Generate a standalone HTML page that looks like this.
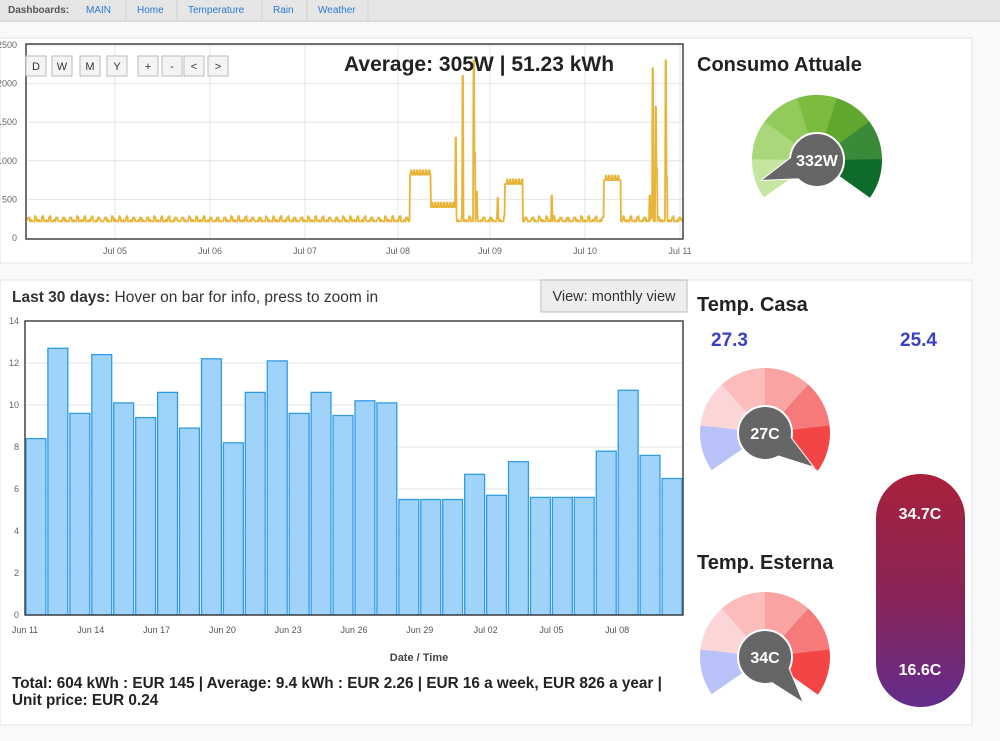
<!DOCTYPE html>
<html><head><meta charset="utf-8"><style>
html,body{margin:0;padding:0;background:#fff;width:1000px;height:741px;overflow:hidden;font-family:"Liberation Sans",sans-serif}
</style></head><body>
<svg id="s" width="1000" height="741" xmlns="http://www.w3.org/2000/svg" font-family="Liberation Sans, sans-serif">
<rect x="0" y="0" width="1000" height="741" fill="#f9f9f9"/>
<rect x="0" y="0" width="1000" height="20" fill="#e6e6e6"/>
<rect x="0" y="20" width="1000" height="2" fill="#d8d8d8"/>
<g font-size="10" fill="#2a7bd0">
<text x="8" y="13" fill="#555" font-weight="bold">Dashboards:</text>
<text x="86" y="13">MAIN</text><text x="137" y="13">Home</text><text x="188" y="13">Temperature</text><text x="273" y="13">Rain</text><text x="318" y="13">Weather</text>
</g>
<g stroke="#d0d0d0"><line x1="126" y1="0" x2="126" y2="20"/><line x1="177" y1="0" x2="177" y2="20"/><line x1="262" y1="0" x2="262" y2="20"/><line x1="307" y1="0" x2="307" y2="20"/><line x1="368" y1="0" x2="368" y2="20"/></g>
<rect x="0" y="38" width="972" height="225" fill="#fff" stroke="#e2e2e2"/>
<rect x="0" y="280" width="972" height="445" fill="#fff" stroke="#e2e2e2"/>
<g id="topc"></g>
<rect x="26" y="44" width="657" height="195" fill="none" stroke="#444" stroke-width="1.5"/>
<text x="344" y="71" font-size="21" font-weight="bold" fill="#222">Average: 305W | 51.23 kWh</text>
<g id="btns"></g>
<text x="697" y="71" font-size="20" font-weight="bold" fill="#222">Consumo Attuale</text>
<text x="12" y="302" font-size="15.5" fill="#333"><tspan font-weight="bold">Last 30 days:</tspan> Hover on bar for info, press to zoom in</text>
<rect x="541" y="280" width="146" height="32" fill="#eee" stroke="#bbb"/>
<text x="614" y="301" font-size="14.5" fill="#333" text-anchor="middle">View: monthly view</text>
<g id="bars"></g>
<rect x="25" y="321" width="658" height="294" fill="none" stroke="#444" stroke-width="1.5"/>
<text x="419" y="661" font-size="11" font-weight="bold" fill="#444" text-anchor="middle">Date / Time</text>
<text x="12" y="688" font-size="15.3" font-weight="bold" fill="#222">Total: 604 kWh : EUR 145 | Average: 9.4 kWh : EUR 2.26 | EUR 16 a week, EUR 826 a year |</text>
<text x="12" y="705" font-size="15.3" font-weight="bold" fill="#222">Unit price: EUR 0.24</text>
<text x="697" y="311" font-size="20" font-weight="bold" fill="#222">Temp. Casa</text>
<text x="711" y="346" font-size="19" font-weight="bold" fill="#3a3fc4">27.3</text>
<text x="900" y="346" font-size="19" font-weight="bold" fill="#3a3fc4">25.4</text>
<text x="697" y="569" font-size="20" font-weight="bold" fill="#222">Temp. Esterna</text>
<defs><linearGradient id="th" x1="0" y1="0" x2="0" y2="1">
<stop offset="0" stop-color="#a8213a"/><stop offset="0.5" stop-color="#8a2456"/><stop offset="1" stop-color="#632c8c"/></linearGradient></defs>
<rect x="876" y="474" width="89" height="233" rx="44" fill="url(#th)"/>
<text x="920" y="519" font-size="16" font-weight="bold" fill="#fff" text-anchor="middle">34.7C</text>
<text x="920" y="675" font-size="16" font-weight="bold" fill="#fff" text-anchor="middle">16.6C</text>
<g id="gauges"></g>
</svg>
<script>
(function(){
var NS="http://www.w3.org/2000/svg";
function el(p,t,a,txt){var e=document.createElementNS(NS,t);for(var k in a)e.setAttribute(k,a[k]);if(txt!=null)e.textContent=txt;p.appendChild(e);return e;}
var tp=document.getElementById('topc');
function Y(v){return 238-v*0.0772;}
for(var i=1;i<=5;i++)el(tp,'line',{x1:26,x2:683,y1:Y(i*500),y2:Y(i*500),stroke:'#e4e4e4'});
[115,210,305,398,490,585,680].forEach(function(x,i){el(tp,'line',{x1:x,x2:x,y1:44,y2:239,stroke:'#e4e4e4'});el(tp,'text',{x:x,y:254,'font-size':9,fill:'#666','text-anchor':'middle'},['Jul 05','Jul 06','Jul 07','Jul 08','Jul 09','Jul 10','Jul 11'][i]);});
['0','500','1000','1500','2000','2500'].forEach(function(t,i){el(tp,'text',{x:17,y:Y(i*500)+3,'font-size':9,fill:'#666','text-anchor':'end'},t);});
function val(x){
 var b=215+((Math.floor(x)%7<2)?50:0)+((Math.floor(x*1.3)%5==0)?20:0);
 var r=[[410,431,820],[431,456,400],[505,523,700],[604,621,750]];
 for(var k=0;k<r.length;k++)if(x>=r[k][0]&&x<r[k][1])b=r[k][2]+(Math.floor(x)%3==0?60:0);
 var sp={456:1300,463:2100,474:2300,475:1100,477:600,498:520,516:750,552:550,650:550,653:2200,656:1700,657:900,666:2300,667:800};
 var xi=Math.round(x);if(sp[xi])b=sp[xi];
 return b;}
var d='M27 '+Y(val(27));for(var x=27.5;x<=682;x+=0.5)d+=' L'+x+' '+Y(val(x)).toFixed(1);
el(tp,'path',{d:d,fill:'none',stroke:'#e8b53a','stroke-width':1.8,'stroke-linejoin':'round'});
var bt=document.getElementById('btns');
[['D',26],['W',52],['M',80],['Y',107],['+',138],['-',162],['<',184],['>',208]].forEach(function(b){el(bt,'rect',{x:b[1],y:56,width:20,height:20,fill:'#f4f4f4',stroke:'#bbb'});el(bt,'text',{x:b[1]+10,y:70,'font-size':11,'text-anchor':'middle',fill:'#333'},b[0]);});
var bars=document.getElementById('bars');
function BY(v){return 615-v*21;}
for(var i=1;i<=7;i++){el(bars,'line',{x1:25,x2:683,y1:BY(i*2),y2:BY(i*2),stroke:'#e4e4e4'});}
for(var i=0;i<=7;i++)el(bars,'text',{x:19,y:BY(i*2)+3,'font-size':9,fill:'#666','text-anchor':'end'},String(i*2));
var v=[8.4,12.7,9.6,12.4,10.1,9.4,10.6,8.9,12.2,8.2,10.6,12.1,9.6,10.6,9.5,10.2,10.1,5.5,5.5,5.5,6.7,5.7,7.3,5.6,5.6,5.6,7.8,10.7,7.6,6.5];
var w=658/30;
v.forEach(function(h,i){el(bars,'rect',{x:(25+i*w+1).toFixed(1),y:BY(h),width:(w-2).toFixed(1),height:h*21,fill:'#9fd3fa',stroke:'#2f9be6','stroke-width':1.3});});
['Jun 11','Jun 14','Jun 17','Jun 20','Jun 23','Jun 26','Jun 29','Jul 02','Jul 05','Jul 08'].forEach(function(t,i){el(bars,'text',{x:25+i*3*w,y:633,'font-size':9,fill:'#555','text-anchor':'middle'},t);});
var g=document.getElementById('gauges');
function pt(cx,cy,r,a){var t=(a-90)*Math.PI/180;return [cx+r*Math.cos(t),cy+r*Math.sin(t)];}
function wedge(cx,cy,r0,r1,a0,a1,c){var p1=pt(cx,cy,r1,a0),p2=pt(cx,cy,r1,a1),p3=pt(cx,cy,r0,a1),p4=pt(cx,cy,r0,a0);
 el(g,'path',{d:'M'+p1+' A'+r1+' '+r1+' 0 0 1 '+p2+' L'+p3+' A'+r0+' '+r0+' 0 0 0 '+p4+'Z',fill:c});}
function gauge(cx,cy,cols,label,na){
 var a=-125,st=250/cols.length;
 cols.forEach(function(c,i){wedge(cx,cy,20,65,a+i*st,a+(i+1)*st+0.5,c);});
 var tip=pt(cx,cy,58,na),l=pt(cx,cy,22,na-35),r=pt(cx,cy,22,na+35);
 el(g,'path',{d:'M'+l+' L'+tip+' L'+r+'Z',fill:'#666',stroke:'#fff','stroke-width':2});
 el(g,'circle',{cx:cx,cy:cy,r:27,fill:'#666',stroke:'#fff','stroke-width':2});
 el(g,'path',{d:'M'+l+' L'+tip+' L'+r+'Z',fill:'#666'});
 el(g,'text',{x:cx,y:cy+6,'font-size':16,'font-weight':'bold',fill:'#fff','text-anchor':'middle'},label);}
gauge(817,160,['#c5e6a0','#a9d77a','#93ca5c','#7bbb3e','#5fa72e','#3a8a3a','#0d6b2c'],'332W',-110);
var tc=['#b9c2f8','#fcd6d6','#fbbcbc','#f9a3a3','#f67a7a','#f34545'];
gauge(765,433,tc,'27C',125);
gauge(765,657,tc,'34C',140);
})();
</script>
</body></html>
